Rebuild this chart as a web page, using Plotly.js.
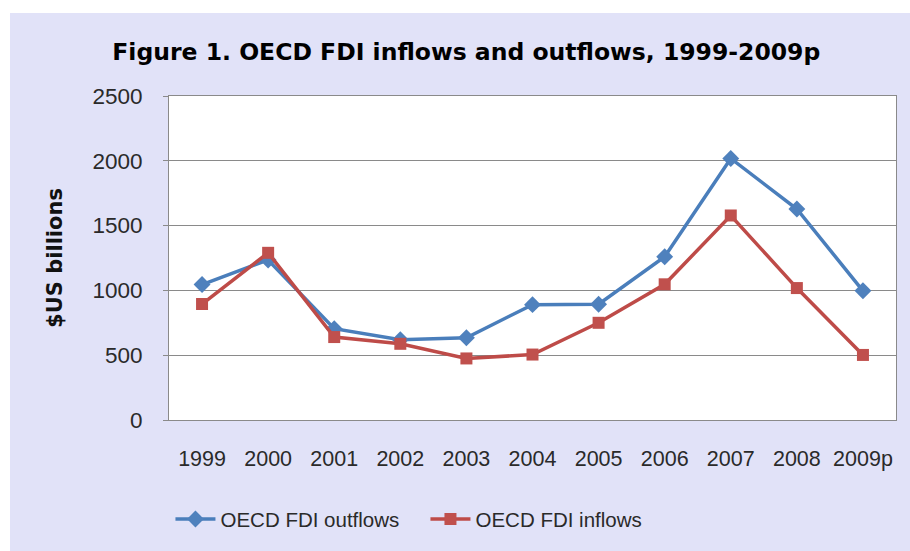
<!DOCTYPE html>
<html>
<head>
<meta charset="utf-8">
<script src="https://cdn.plot.ly/plotly-3.0.1.min.js"></script>
<style>
html,body{margin:0;padding:0;background:#ffffff;width:910px;height:551px;overflow:hidden;}
#chart{position:absolute;left:10px;top:13px;width:900px;height:538px;}
</style>
</head>
<body>
<div id="chart"></div>
<script>
const years = ["1999","2000","2001","2002","2003","2004","2005","2006","2007","2008","2009p"];
const outflows = [1045, 1235, 705, 620, 635, 890, 893, 1260, 2018, 1628, 997];
const inflows = [895, 1290, 640, 588, 475, 505, 750, 1047, 1578, 1018, 502];
const yTicks = [0, 500, 1000, 1500, 2000, 2500];

const traces = [
  {
    x: years, y: outflows, name: "OECD FDI outflows", type: "scatter", mode: "lines+markers",
    line: {color: "#4A7EBB", width: 3.5},
    marker: {symbol: "diamond", size: 13, color: "#4F81BD", line: {width: 0}}
  },
  {
    x: years, y: inflows, name: "OECD FDI inflows", type: "scatter", mode: "lines+markers",
    line: {color: "#BE4B48", width: 3.5},
    marker: {symbol: "square", size: 12, color: "#C0504D", line: {width: 0}}
  }
];

const layout = {
  width: 900, height: 538,
  paper_bgcolor: "#E1E2F8",
  plot_bgcolor: "#FFFFFF",
  margin: {l: 159, r: 14, t: 83, b: 128},
  font: {family: "Liberation Sans, Arial, sans-serif", color: "#222222"},
  title: {
    text: "<b>Figure 1. OECD FDI inflows and outflows, 1999-2009p</b>",
    font: {size: 23.5, color: "#000000", family: "DejaVu Sans, sans-serif"},
    x: 0.507, xanchor: "center", y: 1 - 39/538, yanchor: "middle", yref: "container"
  },
  xaxis: {
    type: "category", range: [-0.5, 10.5],
    tickvals: years, ticktext: years,
    showgrid: false, showline: true, linecolor: "#8A8A8A", linewidth: 1, mirror: true,
    ticks: "", tickfont: {size: 21.5, color: "#2A2A2A"},
    ticklabelstandoff: 19, zeroline: false, fixedrange: true
  },
  yaxis: {
    range: [0, 2500], tickvals: yTicks, ticktext: yTicks.map(String),
    showgrid: true, gridcolor: "#8A8A8A", gridwidth: 1,
    showline: true, linecolor: "#8A8A8A", linewidth: 1, mirror: true,
    ticks: "outside", ticklen: 5, tickcolor: "#8A8A8A",
    tickfont: {size: 22.5, color: "#2A2A2A"}, ticklabelstandoff: 16,
    zeroline: false, fixedrange: true,
    title: {text: "<b>$US billions</b>", font: {size: 21, color: "#111111", family: "DejaVu Sans, sans-serif"}, standoff: 24}
  },
  showlegend: true,
  legend: {
    orientation: "h", x: 0.002, xanchor: "left", y: -0.306, yanchor: "middle",
    font: {size: 20.5, color: "#2A2A2A"}, bgcolor: "rgba(0,0,0,0)",
    entrywidth: 200, entrywidthmode: "pixels", itemwidth: 40
  }
};

Plotly.newPlot("chart", traces, layout, {displayModeBar: false, staticPlot: true});
</script>
</body>
</html>
